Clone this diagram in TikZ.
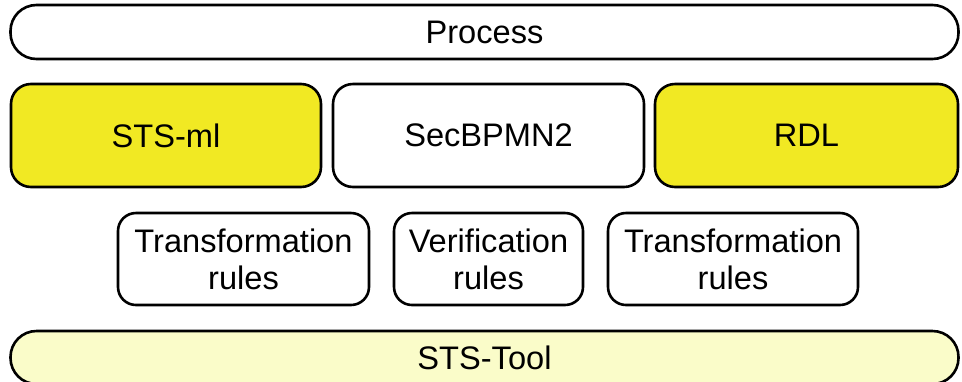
\documentclass[tikz,border=0pt]{standalone}
\usepackage{fontspec}
\setmainfont{Liberation Sans}
\definecolor{langyellow}{RGB}{241,233,35}
\definecolor{toolyellow}{RGB}{250,252,201}
\tikzset{
  layer/.style={draw=black, line width=1.3pt, rounded corners=10pt, align=center,
    font=\fontsize{16.3}{18.6}\selectfont, inner sep=0pt, outer sep=0pt},
  bar/.style={layer, rounded corners=13pt},
  lang/.style={layer, fill=langyellow},
  rulebox/.style={layer, rounded corners=9pt}
}
\begin{document}
\begin{tikzpicture}[x=0.5pt, y=-0.5pt]
  \useasboundingbox (0,0) rectangle (962,381);
  \clip (0,0) rectangle (962,381);
  % top layer
  \node[bar, fill=white, minimum width=474pt, minimum height=27pt] (process) at (484.5,32) {Process};
  % modelling languages
  \node[lang, minimum width=155pt, minimum height=51.5pt] (stsml) at (166,135.5) {STS-ml};
  \node[layer, fill=white, minimum width=155.5pt, minimum height=51.5pt] (secbpmn) at (488.5,135.5) {SecBPMN2};
  \node[lang, minimum width=151.5pt, minimum height=51.5pt] (rdl) at (806.5,135.5) {RDL};
  % rule sets
  \node[rulebox, minimum width=125.5pt, minimum height=46pt] (trans1) at (243.5,259) {Transformation\\rules};
  \node[rulebox, minimum width=94.5pt, minimum height=46pt] (verif) at (488.5,259) {Verification\\rules};
  \node[rulebox, minimum width=125pt, minimum height=46pt] (trans2) at (733,259) {Transformation\\rules};
  % tool layer
  \node[bar, fill=toolyellow, minimum width=474pt, minimum height=26.5pt] (tool) at (484.5,357.5) {STS-Tool};
\end{tikzpicture}
\end{document}
